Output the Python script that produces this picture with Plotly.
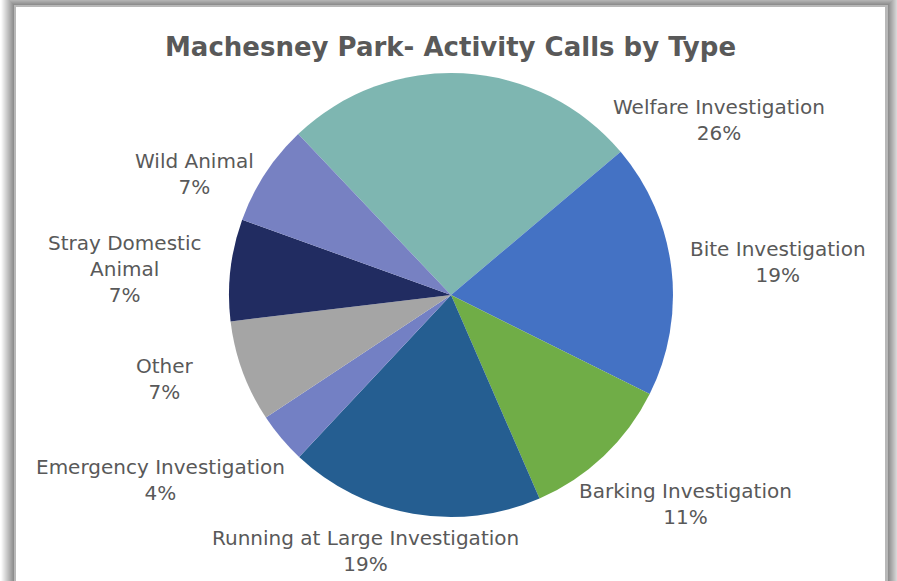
import plotly.graph_objects as go

# ---- data ----
categories = ["Welfare Investigation", "Bite Investigation", "Barking Investigation",
              "Running at Large Investigation", "Emergency Investigation", "Other",
              "Stray Domestic Animal", "Wild Animal"]
values = [21, 15, 9, 15, 3, 6, 6, 6]
label_text = ["Welfare Investigation", "Bite Investigation", "Barking Investigation",
              "Running at Large Investigation", "Emergency Investigation", "Other",
              "Stray Domestic<br>Animal", "Wild Animal"]

# ---- style ----
colors = ["#7EB6B1", "#4472C4", "#70AD47", "#255E91", "#7380C4", "#A5A5A5", "#212C61", "#7781C2"]
W, H = 897, 581
label_pos_px = [(719, 120), (778, 262), (685, 504), (365, 551),
                (160, 480), (165, 379), (124, 269), (194, 174)]
FONT = "DejaVu Sans"
TXT = "#595959"

def px(x):
    return x / W

def py(y):
    return 1 - y / H

cx, cy, r = 451, 295, 222
total = sum(values)

fig = go.Figure(go.Pie(
    labels=categories, values=values, sort=False, direction="clockwise",
    rotation=-43.5, textinfo="none", hoverinfo="label+percent",
    marker=dict(colors=colors, line=dict(width=0)),
    domain=dict(x=[px(cx - r), px(cx + r)], y=[py(cy + r), py(cy - r)]),
    showlegend=False,
))

shapes = []
# shadow layers around frame
n = 14
for i in range(n, 0, -1):
    g = int(250 - (n - i) * 9)
    col = f"rgb({g},{g},{g})"
    shapes.append(dict(type="rect", xref="paper", yref="paper", layer="below",
                       x0=px(15 - i), x1=px(887 + i), y0=py(H + 40), y1=py(6 - i),
                       fillcolor=col, line=dict(width=0)))
shapes.append(dict(type="rect", xref="paper", yref="paper", layer="below",
                   x0=px(14), x1=px(888), y0=py(H + 40), y1=py(5),
                   fillcolor="#B8B8B8", line=dict(width=0)))
shapes.append(dict(type="rect", xref="paper", yref="paper", layer="below",
                   x0=px(16), x1=px(885), y0=py(H + 40), y1=py(7),
                   fillcolor="#FFFFFF", line=dict(width=0)))

annotations = [dict(text="<b>Machesney Park- Activity Calls by Type</b>", x=px(450), y=py(47),
                    xref="paper", yref="paper", showarrow=False, xanchor="center", yanchor="middle",
                    font=dict(family=FONT, size=26, color=TXT))]
for cat, txt, v, (lx, ly) in zip(categories, label_text, values, label_pos_px):
    pct = round(100 * v / total)
    annotations.append(dict(text=f"{txt}<br>{pct}%", x=px(lx), y=py(ly), xref="paper", yref="paper",
                            showarrow=False, xanchor="center", yanchor="middle", align="center",
                            font=dict(family=FONT, size=20, color=TXT)))

fig.update_layout(width=W, height=H, margin=dict(l=0, r=0, t=0, b=0),
                  paper_bgcolor="white", plot_bgcolor="white",
                  shapes=shapes, annotations=annotations)

fig.write_html("out.html", config={"displayModeBar": False},
               post_script="document.body.style.margin='0';document.body.style.overflow='hidden';")
